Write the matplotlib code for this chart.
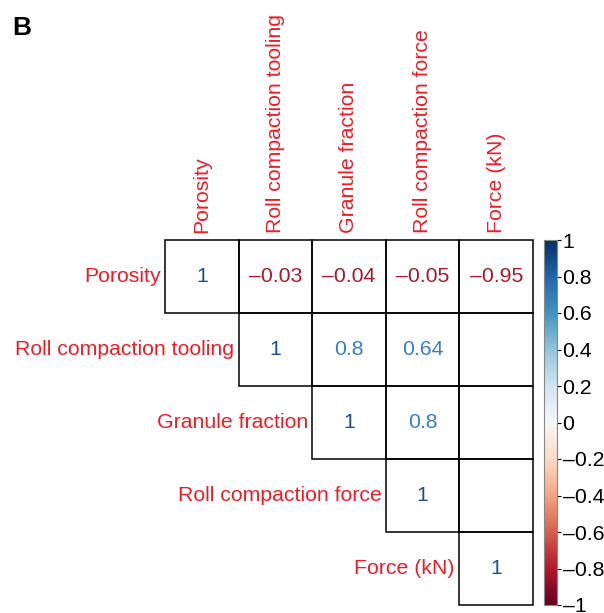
import numpy as np
import matplotlib.pyplot as plt
from matplotlib.patches import Rectangle
import matplotlib as mpl

plt.rcParams['font.family'] = ['Liberation Sans', 'DejaVu Sans']

# variables and upper-triangle correlations (None = blank cell)
names = ['Porosity', 'Roll compaction tooling', 'Granule fraction',
         'Roll compaction force', 'Force (kN)']
corr = [
    [1, -0.03, -0.04, -0.05, -0.95],
    [None, 1, 0.8, 0.64, None],
    [None, None, 1, 0.8, None],
    [None, None, None, 1, None],
    [None, None, None, None, 1],
]
cbar_ticks = [-1, -0.8, -0.6, -0.4, -0.2, 0, 0.2, 0.4, 0.6, 0.8, 1]

# coarse palette used for the numbers in the cells
num_bounds = [-1, 0, 0.9, 1.01]
num_colors = ['#A6192E', '#3A7FC6', '#1F4E8A']

label_col = '#EE1C25'
cmap = plt.get_cmap('RdBu')
norm = mpl.colors.Normalize(vmin=-1, vmax=1)
num_cmap = mpl.colors.ListedColormap(num_colors)
num_norm = mpl.colors.BoundaryNorm(num_bounds, num_cmap.N)
W, H = 604, 613
fs = 15.3

fig = plt.figure(figsize=(W / 100, H / 100), dpi=100)
ax = fig.add_axes([165 / W, 8 / H, 368 / W, 365 / H])
n = len(names)
ax.set_xlim(0, n)
ax.set_ylim(n, 0)
ax.axis('off')

for i in range(n):
    for j in range(i, n):
        ax.add_patch(Rectangle((j, i), 1, 1, fill=False, ec='black', lw=1.1,
                               clip_on=False))
        v = corr[i][j]
        if v is not None:
            txt = ('%g' % v).replace('-', '\u2013')
            ax.text(j + 0.5, i + 0.5, txt, ha='center', va='center',
                    fontsize=fs, color=num_cmap(num_norm(v)))
    # row label
    ax.text(i - 0.06, i + 0.5, names[i], ha='right', va='center',
            fontsize=fs, color=label_col)
    # column label on top
    ax.text(i + 0.5, -0.1, names[i], ha='center', va='bottom', rotation=90,
            fontsize=fs, color=label_col)

# colorbar
cax = fig.add_axes([544 / W, 8 / H, 13 / W, 365 / H])
cb = mpl.colorbar.ColorbarBase(cax, cmap=cmap, norm=norm, ticks=cbar_ticks)
cb.outline.set_edgecolor('#888888')
cb.ax.tick_params(labelsize=fs, length=3, width=0.8, pad=1)
cb.ax.set_yticklabels([('%g' % t).replace('-', '\u2013') for t in cbar_ticks])

fig.text(12 / W, 1 - 35 / H, 'B', fontsize=19, fontweight='bold')

fig.savefig('out.png', dpi=100)
